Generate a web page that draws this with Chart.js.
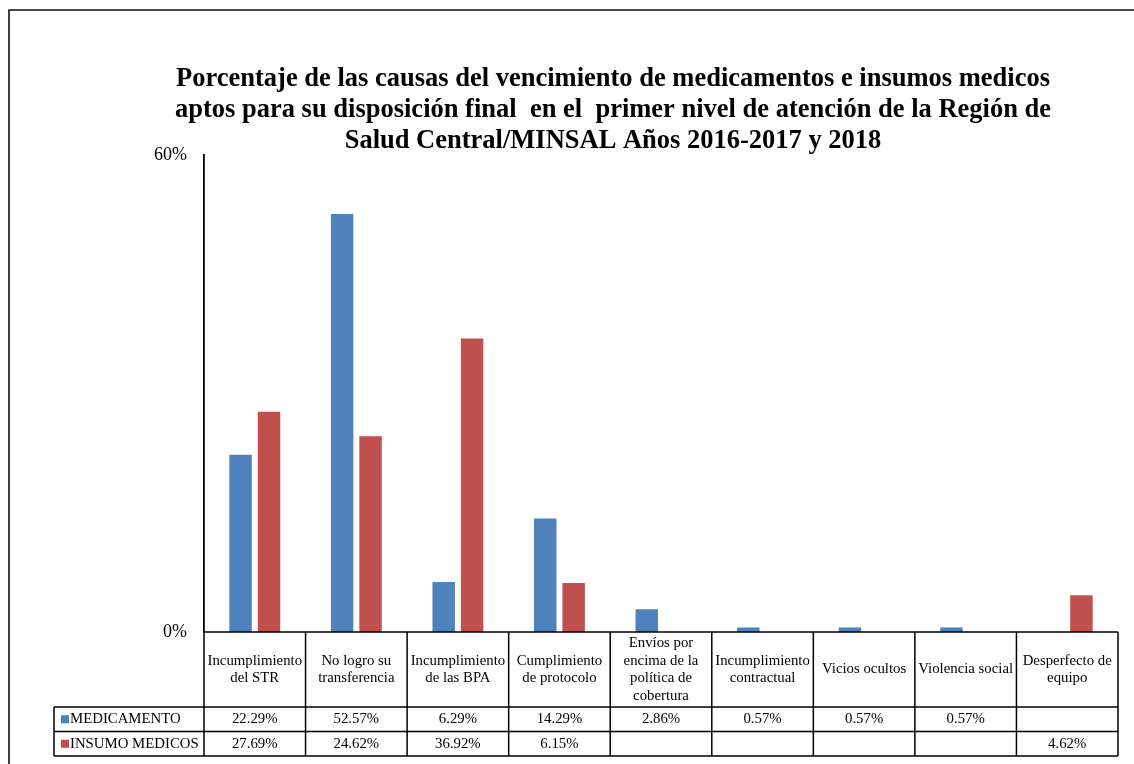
<!DOCTYPE html>
<html>
<head>
<meta charset="utf-8">
<script src="https://cdn.jsdelivr.net/npm/chart.js@4.4.0/dist/chart.umd.min.js"></script>
<style>
  html, body { margin: 0; padding: 0; background: #fff; }
  #wrap { width: 1134px; height: 764px; position: relative; }
</style>
</head>
<body>
<div id="wrap"><canvas id="chart"></canvas></div>
<script>
const CATEGORIES = [
  ["Incumplimiento", "del STR"],
  ["No logro su", "transferencia"],
  ["Incumplimiento", "de las BPA"],
  ["Cumplimiento", "de protocolo"],
  ["Envíos por", "encima de la", "política de", "cobertura"],
  ["Incumplimiento", "contractual"],
  ["Vicios ocultos"],
  ["Violencia social"],
  ["Desperfecto de", "equipo"],
];
const MEDICAMENTO = [22.29, 52.57, 6.29, 14.29, 2.86, 0.57, 0.57, 0.57, null];
const INSUMO = [27.69, 24.62, 36.92, 6.15, null, null, null, null, 4.62];
const SERIES_NAMES = ["MEDICAMENTO", "INSUMO MEDICOS"];
const Y_TICKS = [0, 60];

const TITLE = [
  "Porcentaje de las causas del vencimiento de medicamentos e insumos medicos",
  "aptos para su disposición final  en el  primer nivel de atención de la Región de",
  "Salud Central/MINSAL Años 2016-2017 y 2018",
];

const C = { blue: "#4F81BD", red: "#C0504D", line: "#000" };
const SERIF = '"Liberation Serif", "Times New Roman", serif';

// título + marco
const framePlugin = {
  id: "frame",
  beforeDraw(chart) {
    const ctx = chart.ctx;
    ctx.save();
    ctx.fillStyle = "#fff";
    ctx.fillRect(0, 0, chart.width, chart.height);
    ctx.strokeStyle = "#111";
    ctx.lineWidth = 1.6;
    ctx.beginPath();
    ctx.moveTo(9, chart.height);
    ctx.lineTo(9, 10);
    ctx.lineTo(chart.width, 10);
    ctx.stroke();
    ctx.fillStyle = "#000";
    ctx.font = "bold 26.5px " + SERIF;
    ctx.textAlign = "center";
    ctx.textBaseline = "middle";
    TITLE.forEach((t, i) => ctx.fillText(t, 613, 79 + i * 31));
    ctx.restore();
  },
};

// tabla de datos bajo el eje X
const tablePlugin = {
  id: "dataTable",
  afterDraw(chart) {
    const ctx = chart.ctx;
    const x = chart.scales.x;
    const area = chart.chartArea;
    const n = CATEGORIES.length;
    const cw = (area.right - area.left) / n;
    const top = area.bottom;
    const hdr = top + 75;
    const r1 = hdr + 24.5;
    const r2 = r1 + 24.5;
    const legLeft = 54;

    ctx.save();
    ctx.strokeStyle = C.line;
    ctx.lineWidth = 1.5;
    ctx.beginPath();
    ctx.moveTo(area.left, top); ctx.lineTo(area.right, top);
    for (const y of [hdr, r1, r2]) { ctx.moveTo(legLeft, y); ctx.lineTo(area.right, y); }
    for (let i = 0; i <= n; i++) {
      const bx = x.getPixelForValue(0) - cw / 2 + i * cw;
      ctx.moveTo(bx, top); ctx.lineTo(bx, r2);
    }
    ctx.moveTo(legLeft, hdr); ctx.lineTo(legLeft, r2);
    ctx.stroke();

    ctx.fillStyle = "#000";
    ctx.font = "14.8px " + SERIF;
    ctx.textAlign = "center";
    ctx.textBaseline = "middle";
    const lh = 17.7;
    CATEGORIES.forEach((lines, i) => {
      const cx = x.getPixelForValue(i);
      const y0 = (top + hdr) / 2 - ((lines.length - 1) * lh) / 2;
      lines.forEach((l, j) => ctx.fillText(l, cx, y0 + j * lh));
    });

    const rows = [MEDICAMENTO, INSUMO];
    const colors = [C.blue, C.red];
    rows.forEach((vals, k) => {
      const cy = (k === 0 ? (hdr + r1) : (r1 + r2)) / 2;
      ctx.textAlign = "center";
      vals.forEach((v, i) => {
        if (v == null) return;
        ctx.fillText(v.toFixed(2) + "%", x.getPixelForValue(i), cy);
      });
      ctx.fillStyle = colors[k];
      ctx.fillRect(61, cy - 4, 8, 8);
      ctx.fillStyle = "#000";
      ctx.textAlign = "left";
      ctx.fillText(SERIES_NAMES[k], 70, cy);
    });
    ctx.restore();
  },
};

new Chart(document.getElementById("chart"), {
  type: "bar",
  data: {
    labels: CATEGORIES,
    datasets: [
      { label: SERIES_NAMES[0], data: MEDICAMENTO, backgroundColor: C.blue },
      { label: SERIES_NAMES[1], data: INSUMO, backgroundColor: C.red },
    ],
  },
  options: {
    responsive: true,
    maintainAspectRatio: false,
    animation: false,
    datasets: { bar: { categoryPercentage: 0.56, barPercentage: 0.79 } },
    layout: { padding: { top: 155, right: 16, bottom: 8, left: 0 } },
    plugins: { legend: { display: false }, title: { display: false }, tooltip: { enabled: false } },
    scales: {
      x: {
        grid: { display: false, drawTicks: false },
        border: { display: false },
        ticks: { display: false },
        afterFit: (s) => { s.height = 124; },
      },
      y: {
        min: Y_TICKS[0],
        max: Y_TICKS[1],
        grid: { display: false, drawTicks: false },
        border: { display: true, color: "#000", width: 1.8 },
        afterBuildTicks: (s) => { s.ticks = Y_TICKS.map((v) => ({ value: v })); },
        ticks: {
          padding: 17,
          color: "#000",
          font: { family: SERIF, size: 18 },
          callback: (v) => v + "%",
        },
        afterFit: (s) => { s.width = 204; },
      },
    },
  },
  plugins: [framePlugin, tablePlugin],
});
</script>
</body>
</html>
